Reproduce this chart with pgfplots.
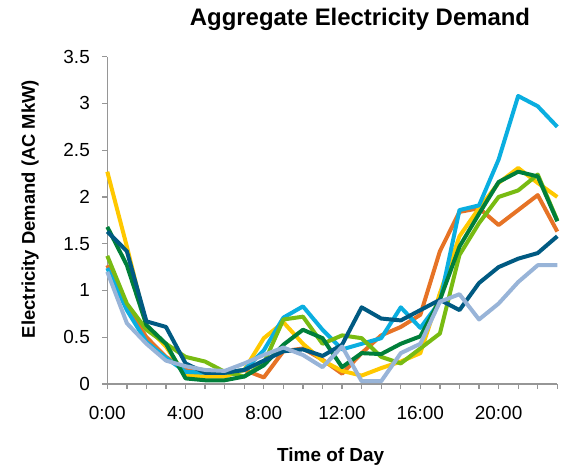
\documentclass[border=0pt]{standalone}
\usepackage{fontspec}
\setmainfont{Liberation Sans}
\usepackage{pgfplots}
\pgfplotsset{compat=1.18}
\definecolor{axisgray}{HTML}{969696}
\definecolor{cOrange}{HTML}{E67326}
\definecolor{cYellow}{HTML}{FFC800}
\definecolor{cCyan}{HTML}{0AAEE0}
\definecolor{cTeal}{HTML}{005A82}
\definecolor{cLime}{HTML}{78BB12}
\definecolor{cDGreen}{HTML}{007F3A}
\definecolor{cGray}{HTML}{98B4D8}
\begin{document}
\begin{tikzpicture}
\useasboundingbox (0,0) rectangle (561bp,465bp);
\begin{axis}[
  at={(107.3bp,81bp)}, anchor=south west,
  width=450bp, height=327.3bp, scale only axis,
  xmin=0, xmax=23, ymin=0, ymax=3.5,
  axis x line=bottom, axis y line=left,
  axis line style={-, draw=axisgray, line width=1.3bp},
  xtick={0,4,...,20}, xticklabels={0:00,4:00,8:00,12:00,16:00,20:00},
  minor xtick={0,...,23},
  ytick={0,0.5,...,3.5},
  tick align=outside, major tick length=5bp, minor tick length=5bp,
  every tick/.style={draw=axisgray, line width=1.3bp},
  minor tick style={draw=axisgray, line width=1.3bp},
  every tick label/.append style={font=\fontsize{19}{22}\selectfont},
  /pgf/number format/assume math mode=true,
  yticklabel style={/pgf/number format/fixed, xshift=-9bp},
  xticklabel style={yshift=-14bp},
  clip=false,
  title={Aggregate Electricity Demand},
  title style={at={(axis description cs:0.5616,1.077)}, anchor=base, font=\bfseries\fontsize{24}{28}\selectfont},
  xlabel={Time of Day},
  xlabel style={at={(axis description cs:0.4964,-0.2368)}, anchor=base, font=\bfseries\fontsize{19}{22}\selectfont},
  ylabel={Electricity Demand (AC MkW)},
  ylabel style={at={(axis description cs:-0.1718,0.5347)}, anchor=center, font=\bfseries\fontsize{18.5}{22}\selectfont},
  every axis plot/.append style={line width=4bp, line join=round, no marks},
]
\addplot[cOrange] coordinates {(0,1.27)(1,0.83)(2,0.50)(3,0.29)(4,0.15)(5,0.12)(6,0.12)(7,0.15)(8,0.07)(9,0.35)(10,0.38)(11,0.26)(12,0.11)(13,0.33)(14,0.52)(15,0.61)(16,0.74)(17,1.42)(18,1.84)(19,1.88)(20,1.70)(21,1.86)(22,2.02)(23,1.63)};
\addplot[cYellow] coordinates {(0,2.27)(1,1.47)(2,0.62)(3,0.40)(4,0.09)(5,0.08)(6,0.08)(7,0.15)(8,0.49)(9,0.66)(10,0.43)(11,0.25)(12,0.14)(13,0.09)(14,0.17)(15,0.24)(16,0.33)(17,0.97)(18,1.58)(19,1.88)(20,2.15)(21,2.31)(22,2.15)(23,2.00)};
\addplot[cCyan] coordinates {(0,1.24)(1,0.79)(2,0.45)(3,0.28)(4,0.13)(5,0.12)(6,0.12)(7,0.15)(8,0.36)(9,0.71)(10,0.83)(11,0.58)(12,0.37)(13,0.43)(14,0.49)(15,0.82)(16,0.60)(17,0.88)(18,1.86)(19,1.91)(20,2.40)(21,3.08)(22,2.97)(23,2.75)};
\addplot[cLime] coordinates {(0,1.37)(1,0.86)(2,0.58)(3,0.43)(4,0.29)(5,0.24)(6,0.13)(7,0.08)(8,0.22)(9,0.69)(10,0.72)(11,0.43)(12,0.52)(13,0.49)(14,0.29)(15,0.22)(16,0.38)(17,0.54)(18,1.38)(19,1.72)(20,2.00)(21,2.07)(22,2.24)(23,1.75)};
\addplot[cDGreen] coordinates {(0,1.68)(1,1.27)(2,0.63)(3,0.43)(4,0.06)(5,0.04)(6,0.04)(7,0.08)(8,0.20)(9,0.42)(10,0.58)(11,0.49)(12,0.18)(13,0.33)(14,0.32)(15,0.43)(16,0.51)(17,0.90)(18,1.47)(19,1.82)(20,2.16)(21,2.27)(22,2.22)(23,1.74)};
\addplot[cTeal] coordinates {(0,1.63)(1,1.42)(2,0.67)(3,0.61)(4,0.22)(5,0.12)(6,0.12)(7,0.15)(8,0.25)(9,0.35)(10,0.37)(11,0.30)(12,0.42)(13,0.82)(14,0.70)(15,0.68)(16,0.79)(17,0.90)(18,0.79)(19,1.08)(20,1.25)(21,1.34)(22,1.40)(23,1.58)};
\addplot[cGray] coordinates {(0,1.20)(1,0.65)(2,0.43)(3,0.25)(4,0.19)(5,0.15)(6,0.14)(7,0.22)(8,0.31)(9,0.39)(10,0.31)(11,0.18)(12,0.40)(13,0.03)(14,0.03)(15,0.33)(16,0.43)(17,0.88)(18,0.96)(19,0.69)(20,0.86)(21,1.09)(22,1.27)(23,1.27)};
\end{axis}
\end{tikzpicture}
\end{document}
